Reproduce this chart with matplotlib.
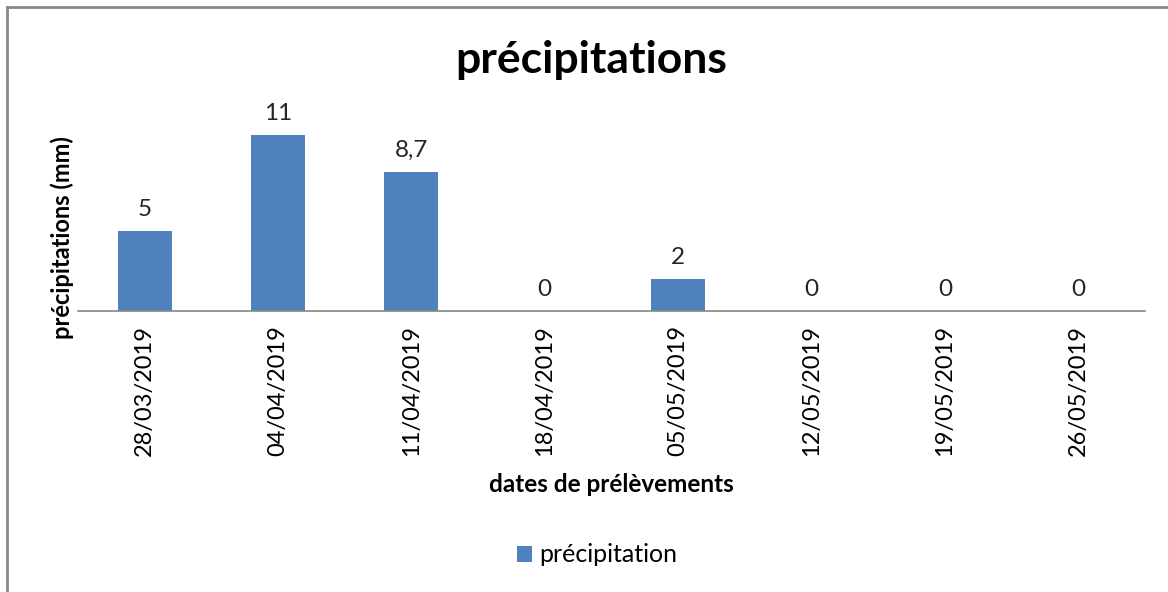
import matplotlib.pyplot as plt
from matplotlib.lines import Line2D

plt.rcParams['font.family'] = ['Lato', 'DejaVu Sans']

dates = ['28/03/2019', '04/04/2019', '11/04/2019', '18/04/2019',
         '05/05/2019', '12/05/2019', '19/05/2019', '26/05/2019']
precip = [5, 11, 8.7, 0, 2, 0, 0, 0]
labels = ['5', '11', '8,7', '0', '2', '0', '0', '0']

fig = plt.figure(figsize=(11.68, 5.92), dpi=100)
ax = fig.add_axes([78 / 1168, 1 - 311 / 592, (1145 - 78) / 1168, (311 - 95) / 592])

x = range(len(dates))
bars = ax.bar(x, precip, width=0.405, color='#4F81BD', label='précipitation')

for xi, v, lab in zip(x, precip, labels):
    ax.text(xi, v + 0.7, lab, ha='center', va='bottom', fontsize=17.5, color='#262626')

ax.set_xlim(-0.5, len(dates) - 0.5)
ax.set_ylim(0, 13.5)
ax.set_xticks(list(x))
ax.set_xticklabels(dates, rotation=90, fontsize=17)
ax.tick_params(axis='x', length=0, pad=10)
ax.set_yticks([])
for s in ['top', 'right', 'left']:
    ax.spines[s].set_visible(False)
ax.spines['bottom'].set_color('#868686')
ax.spines['bottom'].set_linewidth(1.2)

fig.text(591 / 1168, 1 - 60 / 592, 'précipitations', ha='center', va='center',
         fontsize=32, fontweight='bold')
fig.text(62 / 1168, 1 - 238 / 592, 'précipitations (mm)', ha='center', va='center',
         rotation=90, fontsize=17, fontweight='bold')
fig.text(611 / 1168, 1 - 485 / 592, 'dates de prélèvements', ha='center', va='center',
         fontsize=17.5, fontweight='bold')

fig.legend(handles=[bars], loc='center', bbox_to_anchor=(597 / 1168, 1 - 555 / 592),
           frameon=False, fontsize=18, handlelength=0.6, handleheight=0.6,
           handletextpad=0.3)

# chart border (top and left edges visible)
fig.add_artist(Line2D([7 / 1168, 7 / 1168], [0, 1 - 7 / 592], color='#888888', lw=2,
                      transform=fig.transFigure))
fig.add_artist(Line2D([7 / 1168, 1], [1 - 7 / 592, 1 - 7 / 592], color='#888888', lw=2,
                      transform=fig.transFigure))

fig.savefig('out.png', dpi=100)
